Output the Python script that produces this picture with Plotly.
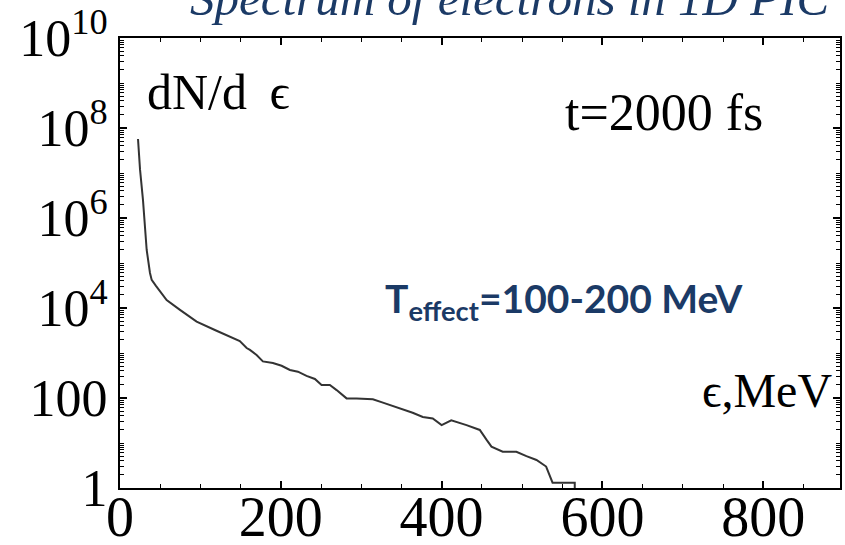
import plotly.graph_objects as go

# Electron energy (MeV) and spectrum dN/dE
energy = [22.4, 24.9, 28.6, 31.0, 33.2, 37.3, 39.4, 44.7, 58.0, 74.6, 95.3, 118.0,
          140.5, 149.0, 157.5, 161.6, 169.9, 177.7, 190.2, 201.0, 211.3, 221.3,
          232.0, 242.4, 250.7, 261.0, 269.4, 281.8, 294.2, 314.5, 327.0, 348.0,
          364.0, 376.6, 389.0, 400.0, 412.0, 431.0, 447.5, 456.0, 462.0, 476.0,
          493.0, 505.5, 518.0, 530.0, 536.6, 538.0, 565.6, 565.6]
dnde = [5.7e7, 1.2e7, 2.5e6, 5.4e5, 1.95e5, 6.0e4, 4.2e4, 3.1e4, 1.5e4, 9100, 5000, 3240,
        2150, 1850, 1290, 1170, 905, 650, 600, 520, 420, 385,
        310, 265, 195, 195, 150, 98, 98, 94, 79, 59,
        47, 38, 35, 25, 32, 25, 19.5, 11.7, 8.3, 6.4,
        6.4, 5.1, 4.2, 3.0, 1.38, 1.31, 1.31, 1.0]

x_tickvals = [0, 200, 400, 600, 800]
x_ticktext = ["0", "200", "400", "600", "800"]
y_tickvals = [1, 100, 1e4, 1e6, 1e8, 1e10]
y_ticktext = ["1", "100", "10<sup>4</sup>", "10<sup>6</sup>", "10<sup>8</sup>", "10<sup>10</sup>"]

# minor log ticks (2..9 x 10^n and odd decades)
y_minor = []
for n in range(0, 10):
    for d in range(2, 10):
        y_minor.append(d * 10 ** n)
    if n % 2 == 1:
        y_minor.append(10 ** n)

L, R, T, B = 120, 5, 38, 57
W, H = 845, 545
PW, PH = W - L - R, H - T - B


def px(xp):
    return (xp - L) / PW


def py(yp):
    return (H - B - yp) / PH


fig = go.Figure()
fig.add_trace(go.Scatter(x=energy, y=dnde, mode="lines",
                         line=dict(color="#333333", width=2), showlegend=False,
                         hoverinfo="skip"))

serif = "Liberation Serif"
navy = "#1b3a66"

fig.update_layout(
    width=W, height=H,
    margin=dict(l=L, r=R, t=T, b=B, pad=0, autoexpand=False),
    paper_bgcolor="white", plot_bgcolor="white",
    xaxis=dict(range=[0, 895.5], showgrid=False, zeroline=False, automargin=False,
               showline=True, linecolor="black", linewidth=2, mirror="ticks",
               ticks="inside", ticklen=7, tickwidth=1.5, tickcolor="black",
               tickmode="array", tickvals=x_tickvals, ticktext=x_ticktext,
               ticklabelstandoff=-21,
               minor=dict(ticks="inside", ticklen=4, tickwidth=1.2, tickcolor="black", dtick=50, tick0=0),
               tickfont=dict(family=serif, size=56, color="black")),
    yaxis=dict(type="log", range=[0, 10], showgrid=False, zeroline=False, automargin=False,
               showline=True, linecolor="black", linewidth=2, mirror="ticks",
               ticks="inside", ticklen=7, tickwidth=1.5, tickcolor="black",
               tickmode="array", tickvals=y_tickvals, ticktext=y_ticktext,
               minor=dict(ticks="inside", ticklen=4, tickwidth=1.2, tickcolor="black",
                          tickmode="array", tickvals=y_minor),
               tickfont=dict(family=serif, size=52, color="black")),
    annotations=[
        dict(text="<i>Spectrum of electrons in 1D PIC</i>", xref="paper", yref="paper",
             x=px(188), y=py(-2), xanchor="left", yanchor="middle", showarrow=False,
             font=dict(family=serif, size=49, color=navy)),
        dict(text="dN/d \u2009ϵ", xref="paper", yref="paper",
             x=px(145), y=py(92), xanchor="left", yanchor="middle", showarrow=False,
             font=dict(family=serif, size=50, color="black")),
        dict(text="t=2000 fs", xref="paper", yref="paper",
             x=px(563), y=py(113), xanchor="left", yanchor="middle", showarrow=False,
             font=dict(family=serif, size=52, color="black")),
        dict(text="ϵ,MeV", xref="paper", yref="paper",
             x=px(700), y=py(390), xanchor="left", yanchor="middle", showarrow=False,
             font=dict(family=serif, size=48, color="black")),
        dict(text="<b>T<sub>effect</sub>=100-200 MeV</b>", xref="paper", yref="paper",
             x=px(383), y=py(301), xanchor="left", yanchor="middle", showarrow=False,
             font=dict(family="Lato", size=39, color=navy)),
    ],
)

fig.write_html("out.html")
